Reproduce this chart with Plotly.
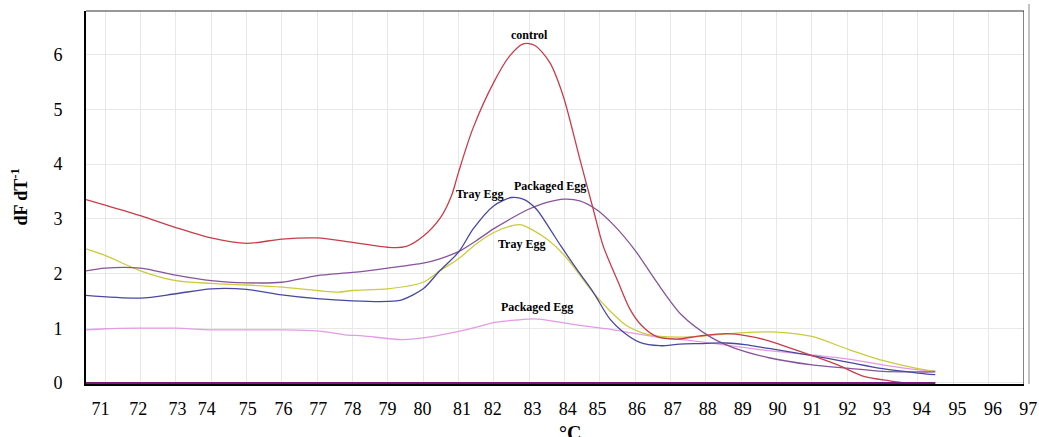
import plotly.graph_objects as go

# ---- data ----
control_x = [70.46, 71.0, 72.0, 73.0, 74.0, 75.0, 76.0, 77.0, 78.0, 79.0, 79.5, 80.0, 80.5, 80.8, 81.0, 81.4,
             82.0, 82.45, 82.83, 83.16, 83.58, 83.96, 84.43, 84.81, 85.09, 85.52, 85.85, 86.18, 86.6, 87.17,
             87.83, 88.58, 89.16, 89.78, 90.33, 91.0, 91.76, 92.42, 93.17, 93.64, 94.49]
control_y = [3.35, 3.25, 3.06, 2.84, 2.65, 2.55, 2.63, 2.65, 2.57, 2.48, 2.49, 2.68, 3.03, 3.42, 3.85, 4.64,
             5.50, 5.98, 6.20, 6.17, 5.86, 5.25, 4.10, 3.18, 2.51, 1.84, 1.35, 1.05, 0.85, 0.80,
             0.86, 0.90, 0.86, 0.77, 0.65, 0.50, 0.32, 0.13, 0.04, 0.0, 0.0]

tray1_x = [70.46, 72.0, 73.0, 74.0, 75.0, 76.0, 77.0, 78.0, 79.0, 79.4, 80.0, 80.47, 81.0, 81.42, 82.0, 82.5,
           82.83, 83.2, 83.58, 83.9, 84.4, 84.81, 85.28, 85.66, 86.13, 86.7, 87.26, 87.83, 88.58, 89.1,
           89.78, 91.0, 92.0, 93.0, 94.0, 94.49]
tray1_y = [1.60, 1.55, 1.63, 1.72, 1.71, 1.61, 1.54, 1.50, 1.49, 1.52, 1.72, 2.05, 2.39, 2.82, 3.24, 3.39,
           3.36, 3.18, 2.82, 2.50, 2.03, 1.66, 1.17, 0.93, 0.74, 0.68, 0.71, 0.72, 0.73, 0.70,
           0.63, 0.50, 0.38, 0.26, 0.18, 0.15]

pack1_x = [70.46, 71.0, 72.0, 73.0, 74.0, 75.0, 76.0, 77.0, 78.0, 79.0, 80.0, 80.47, 81.0, 81.5, 82.0, 82.64,
           83.0, 83.5, 84.0, 84.43, 84.9, 85.4, 86.0, 86.6, 87.3, 88.1, 88.75, 89.78, 91.0, 92.0, 93.0,
           94.0, 94.49]
pack1_y = [2.05, 2.10, 2.10, 1.97, 1.87, 1.83, 1.84, 1.96, 2.02, 2.10, 2.19, 2.27, 2.40, 2.60, 2.82, 3.06,
           3.18, 3.30, 3.36, 3.33, 3.17, 2.88, 2.42, 1.85, 1.25, 0.85, 0.65, 0.46, 0.33, 0.27, 0.21,
           0.20, 0.20]

tray2_x = [70.46, 71.0, 72.0, 73.0, 74.0, 75.0, 76.0, 77.0, 77.6, 78.0, 79.0, 80.0, 80.47, 81.0, 81.5, 82.0,
           82.55, 82.78, 83.0, 83.5, 84.0, 84.4, 84.8, 85.28, 85.75, 86.22, 86.7, 87.6, 88.3, 89.1, 90.0,
           91.0, 92.0, 93.0, 94.0, 94.49]
tray2_y = [2.45, 2.33, 2.05, 1.87, 1.82, 1.79, 1.75, 1.69, 1.66, 1.69, 1.72, 1.84, 2.05, 2.27, 2.54, 2.75,
           2.88, 2.89, 2.83, 2.63, 2.33, 2.00, 1.66, 1.32, 1.05, 0.91, 0.85, 0.84, 0.88, 0.92, 0.93,
           0.85, 0.62, 0.41, 0.26, 0.21]

pack2_x = [70.46, 71.0, 72.0, 73.0, 74.0, 75.0, 76.0, 77.0, 77.8, 78.3, 79.43, 80.19, 81.13, 82.07, 82.64,
           83.16, 83.77, 84.43, 85.3, 85.75, 86.7, 87.64, 88.58, 89.78, 91.0, 92.0, 93.0, 94.0, 94.49]
pack2_y = [0.97, 0.99, 1.00, 1.00, 0.97, 0.97, 0.97, 0.95, 0.88, 0.86, 0.79, 0.84, 0.96, 1.11, 1.15,
           1.17, 1.12, 1.05, 0.98, 0.93, 0.83, 0.77, 0.69, 0.59, 0.51, 0.44, 0.33, 0.24, 0.22]

blank_x = [70.46, 94.49]
blank_y = [0.0, 0.0]

grid_ticks = list(range(71, 98))
tick_labels = [str(v) for v in range(71, 98)]
tick_label_pos = [70.87, 71.94, 73.05, 73.88, 75.04, 76.05, 77.03, 78.0, 78.99, 79.98, 81.1, 81.97, 83.09,
                  84.09, 84.93, 86.05, 87.06, 88.05, 89.04, 90.03, 91.01, 92.01, 92.98, 94.11, 95.12,
                  96.12, 97.12]
y_ticks = [0, 1, 2, 3, 4, 5, 6]

peak_labels = ["control", "Tray Egg", "Packaged Egg", "Tray Egg", "Packaged Egg"]
peak_label_x = [83.02, 81.58, 83.58, 82.79, 83.22]
peak_label_y = [6.36, 3.46, 3.60, 2.54, 1.38]

# ---- figure ----
SERIF = "Liberation Serif, Times New Roman, serif"
X_MIN, X_MAX = 70.46, 97.0
Y_MIN, Y_MAX = -0.02, 6.80
W, H = 1039, 437
L, R_EDGE, T, B_EDGE = 86, 1024, 11, 384
px_per_unit = (R_EDGE - L) / (X_MAX - X_MIN)
x2_max = X_MIN + (W - L) / px_per_unit

fig = go.Figure()
series = [
    (pack2_x, pack2_y, "#e39be3"),
    (tray2_x, tray2_y, "#cbcb3c"),
    (pack1_x, pack1_y, "#87549b"),
    (tray1_x, tray1_y, "#4848a0"),
    (control_x, control_y, "#c93c4a"),
]
for xs, ys, col in series:
    fig.add_trace(go.Scatter(x=xs, y=ys, mode="lines", line=dict(color=col, width=1.3, shape="spline",
                                                               smoothing=0.8),
                             hoverinfo="skip", showlegend=False))
fig.add_trace(go.Scatter(x=blank_x, y=blank_y, mode="lines", line=dict(color="#7a1a7a", width=2),
                         hoverinfo="skip", showlegend=False))
# carrier for the tick-label axis (separate subplot, no marks)
fig.add_trace(go.Scatter(x=[], y=[], xaxis="x2", yaxis="y2", showlegend=False, hoverinfo="skip"))

for txt, xv, yv in zip(peak_labels, peak_label_x, peak_label_y):
    fig.add_annotation(x=xv, y=yv, text="<b>" + txt + "</b>", showarrow=False,
                       font=dict(family=SERIF, size=12, color="black"))

fig.add_annotation(xref="paper", yref="paper", x=(20 - L) / (W - L), y=0.5, xanchor="center",
                   yanchor="middle", text="<b>dF dT<sup>-1</sup></b>", textangle=-90, showarrow=False,
                   font=dict(family=SERIF, size=18, color="black"))
fig.add_annotation(xref="paper", yref="paper", x=(570 - L) / (W - L), y=-(420 - B_EDGE) / (B_EDGE - T),
                   xanchor="center", yanchor="top", text="<b>°C</b>", showarrow=False,
                   font=dict(family=SERIF, size=20, color="black"))

# borders (top, right) and extra gray rule
fig.add_shape(type="line", xref="x", yref="paper", x0=X_MIN, x1=X_MAX, y0=1, y1=1,
              line=dict(color="#333333", width=1.2))
fig.add_shape(type="line", xref="x", yref="paper", x0=X_MAX, x1=X_MAX, y0=0, y1=1,
              line=dict(color="#333333", width=1.2))
fig.add_shape(type="line", xref="paper", yref="paper", x0=(1029 - L) / (W - L), x1=(1029 - L) / (W - L),
              y0=0.0, y1=(B_EDGE - 4) / (B_EDGE - T), line=dict(color="#b0b0b0", width=1.5))

fig.update_layout(
    width=W, height=H,
    margin=dict(l=L, r=0, t=T, b=H - B_EDGE, autoexpand=False),
    paper_bgcolor="white", plot_bgcolor="rgba(0,0,0,0)",
    xaxis=dict(domain=[0, (R_EDGE - L) / (W - L)], range=[X_MIN, X_MAX], tickvals=grid_ticks,
               showticklabels=False, ticks="", showgrid=True, gridcolor="#e8e8e8", gridwidth=1,
               zeroline=False, showline=True, linecolor="black", linewidth=2, automargin=False),
    xaxis2=dict(domain=[0, 1], range=[X_MIN, x2_max], anchor="y2", tickvals=tick_label_pos,
                ticktext=tick_labels, showgrid=False, zeroline=False, showline=False, ticks="",
                ticklabelstandoff=12, automargin=False,
                tickfont=dict(family=SERIF, size=18, color="black")),
    yaxis=dict(range=[Y_MIN, Y_MAX], tickvals=y_ticks, showgrid=True, gridcolor="#e8e8e8", gridwidth=1,
               zeroline=False, showline=True, linecolor="black", linewidth=2, ticks="",
               ticklabelstandoff=18, automargin=False,
               tickfont=dict(family=SERIF, size=18, color="black")),
    yaxis2=dict(range=[Y_MIN, Y_MAX], anchor="x2", showgrid=False, zeroline=False, showline=False,
                showticklabels=False, ticks="", automargin=False),
)

fig.write_html("out.html", config={"displayModeBar": False},
               post_script="document.body.style.margin='0';")
